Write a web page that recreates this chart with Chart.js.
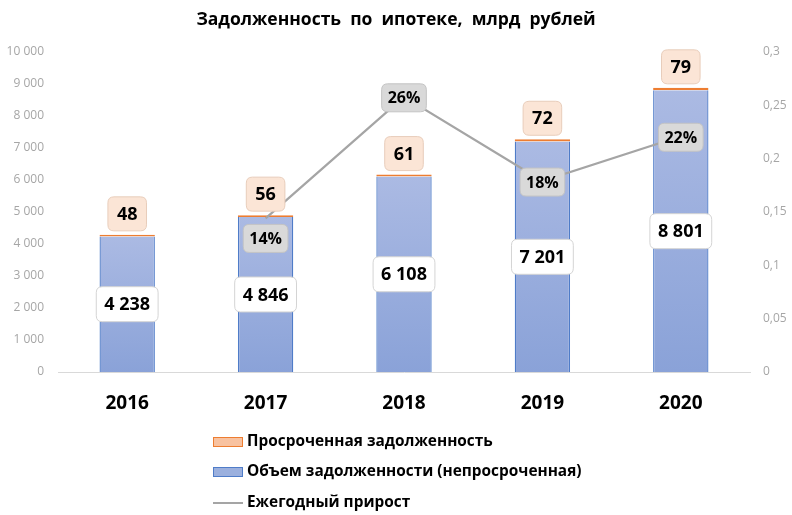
<!DOCTYPE html>
<html>
<head>
<meta charset="utf-8">
<script src="https://cdn.jsdelivr.net/npm/chart.js@4.4.1/dist/chart.umd.min.js"></script>
<style>
    html, body { margin: 0; padding: 0; background: #fff; }
    #wrap { width: 792px; height: 515px; }
</style>
</head>
<body>
<div id="wrap"><canvas id="mortgageChart" width="792" height="515"></canvas></div>
<script>
// data //
const years = ['2016', '2017', '2018', '2019', '2020'];
const mainDebt = [4238, 4846, 6108, 7201, 8801];
const overdueDebt = [48, 56, 61, 72, 79];
const growth = [null, 0.144, 0.258, 0.179, 0.221];
const leftTicks = [0, 1000, 2000, 3000, 4000, 5000, 6000, 7000, 8000, 9000, 10000];
const rightTicks = [0, 0.05, 0.1, 0.15, 0.2, 0.25, 0.3];

const FONT = "'Open Sans', 'Noto Sans', sans-serif";

function fmt(n) {
    return String(n).replace(/\B(?=(\d{3})+(?!\d))/g, ' ');
}

function roundRect(ctx, x, y, w, h, r) {
    ctx.beginPath();
    ctx.moveTo(x + r, y);
    ctx.lineTo(x + w - r, y);
    ctx.quadraticCurveTo(x + w, y, x + w, y + r);
    ctx.lineTo(x + w, y + h - r);
    ctx.quadraticCurveTo(x + w, y + h, x + w - r, y + h);
    ctx.lineTo(x + r, y + h);
    ctx.quadraticCurveTo(x, y + h, x, y + h - r);
    ctx.lineTo(x, y + r);
    ctx.quadraticCurveTo(x, y, x + r, y);
    ctx.closePath();
}

function drawTag(ctx, text, cx, cy, opt) {
    ctx.font = 'bold ' + opt.size + 'px ' + FONT;
    const w = ctx.measureText(text).width + opt.padX * 2;
    const h = opt.h;
    roundRect(ctx, cx - w / 2, cy - h / 2, w, h, 6);
    ctx.fillStyle = opt.fill;
    ctx.fill();
    ctx.lineWidth = 1;
    ctx.strokeStyle = opt.stroke;
    ctx.stroke();
    ctx.fillStyle = '#000';
    ctx.textAlign = 'center';
    ctx.textBaseline = 'middle';
    ctx.fillText(text, cx, cy + 1);
}

// labels on bars and line //
const tagPlugin = {
    id: 'tags',
    afterDatasetsDraw(chart) {
        const ctx = chart.ctx;
        const mainMeta = chart.getDatasetMeta(0);
        const overMeta = chart.getDatasetMeta(1);
        const lineMeta = chart.getDatasetMeta(2);
        ctx.save();
        mainMeta.data.forEach((bar, i) => {
            drawTag(ctx, fmt(mainDebt[i]), bar.x, (bar.y + bar.base) / 2,
                { size: 18, padX: 8, h: 35, fill: '#ffffff', stroke: '#d4d4d4' });
        });
        overMeta.data.forEach((bar, i) => {
            drawTag(ctx, String(overdueDebt[i]), bar.x, bar.y - 21,
                { size: 18, padX: 9, h: 34, fill: '#fbe5d6', stroke: '#e8cdbb' });
        });
        lineMeta.data.forEach((pt, i) => {
            if (growth[i] === null) return;
            const dy = i === 1 ? 20 : 1;
            drawTag(ctx, Math.round(growth[i] * 100) + '%', pt.x, pt.y + dy,
                { size: 16, padX: 6, h: 28, fill: '#d9d9d9', stroke: '#c4c4c4' });
        });
        ctx.restore();
    }
};

// legend under the chart, one item per row //
const legendPlugin = {
    id: 'rowLegend',
    afterDraw(chart) {
        const ctx = chart.ctx;
        const items = [1, 0, 2];
        const rows = [442, 472, 503];
        ctx.save();
        ctx.font = 'bold 15.4px ' + FONT;
        ctx.textAlign = 'left';
        ctx.textBaseline = 'middle';
        items.forEach((idx, r) => {
            const ds = chart.data.datasets[idx];
            const y = rows[r];
            if (ds.type === 'line') {
                ctx.strokeStyle = ds.borderColor;
                ctx.lineWidth = 2;
                ctx.beginPath();
                ctx.moveTo(213, y);
                ctx.lineTo(243, y);
                ctx.stroke();
            } else {
                ctx.fillStyle = ds.legendFill;
                ctx.fillRect(213, y - 5, 30, 10);
                ctx.strokeStyle = ds.borderColor;
                ctx.lineWidth = 1;
                ctx.strokeRect(213.5, y - 4.5, 29, 9);
            }
            ctx.fillStyle = '#000';
            ctx.fillText(ds.label, 247, y);
        });
        ctx.restore();
    }
};

document.addEventListener('DOMContentLoaded', () => {
    const ctx = document.getElementById('mortgageChart').getContext('2d');

    const barFill = function (context) {
        const chart = context.chart;
        const y = chart.scales.y;
        if (!chart.chartArea || !y) return '#98aedd';
        const v = mainDebt[context.dataIndex];
        const top = y.getPixelForValue(v);
        const bottom = y.getPixelForValue(0);
        if (!isFinite(top) || !isFinite(bottom) || top === bottom) return '#98aedd';
        const g = chart.ctx.createLinearGradient(0, top, 0, bottom);
        g.addColorStop(0, '#abbae3');
        g.addColorStop(1, '#8aa2d8');
        return g;
    };

    const mortgageChart = new Chart(ctx, {
        type: 'bar',
        data: {
            labels: years,
            datasets: [{
                label: 'Объем задолженности (непросроченная)',
                data: mainDebt,
                backgroundColor: barFill,
                legendFill: '#9bb0de',
                borderColor: '#4f7cc8',
                borderWidth: { left: 1.3, right: 1.3, top: 0, bottom: 0 },
                borderSkipped: false,
                categoryPercentage: 0.8,
                barPercentage: 0.5,
                yAxisID: 'y',
                order: 1
            }, {
                label: 'Просроченная задолженность',
                data: overdueDebt,
                backgroundColor: '#f4b183',
                legendFill: '#f8c2a0',
                borderColor: '#ed7d31',
                borderWidth: 1.5,
                borderSkipped: false,
                categoryPercentage: 0.8,
                barPercentage: 0.5,
                yAxisID: 'y',
                order: 1
            }, {
                type: 'line',
                label: 'Ежегодный прирост',
                data: growth,
                borderColor: '#a5a5a5',
                backgroundColor: '#a5a5a5',
                borderWidth: 2.25,
                pointRadius: 0,
                fill: false,
                tension: 0,
                yAxisID: 'y1',
                order: 0
            }]
        },
        options: {
            responsive: false,
            animation: false,
            layout: { padding: 0 },
            plugins: {
                legend: { display: false },
                tooltip: { enabled: false },
                title: {
                    display: true,
                    text: 'Задолженность  по  ипотеке,  млрд  рублей',
                    color: '#000',
                    font: { family: FONT, size: 17.5, weight: 'bold', lineHeight: 1.2 },
                    padding: { top: 10, bottom: 21 }
                }
            },
            scales: {
                x: {
                    stacked: true,
                    grid: { display: false, drawTicks: false },
                    border: { display: true, color: '#d9d9d9', width: 1 },
                    ticks: {
                        color: '#000',
                        padding: 20,
                        font: { family: FONT, size: 19, weight: 'bold' }
                    },
                    afterFit: (s) => { s.height = 143; }
                },
                y: {
                    stacked: true,
                    position: 'left',
                    min: 0,
                    max: 10000,
                    grid: { display: false, drawTicks: false },
                    border: { display: false },
                    afterBuildTicks: (s) => { s.ticks = leftTicks.map(v => ({ value: v })); },
                    ticks: {
                        color: '#a6a6a6',
                        padding: 14,
                        font: { family: FONT, size: 12 },
                        callback: (v) => fmt(v)
                    },
                    afterFit: (s) => { s.width = 58; }
                },
                y1: {
                    position: 'right',
                    min: 0,
                    max: 0.3,
                    grid: { display: false, drawTicks: false },
                    border: { display: false },
                    afterBuildTicks: (s) => { s.ticks = rightTicks.map(v => ({ value: v })); },
                    ticks: {
                        color: '#a6a6a6',
                        padding: 13,
                        font: { family: FONT, size: 12 },
                        callback: (v) => String(parseFloat(v.toFixed(2))).replace('.', ',')
                    },
                    afterFit: (s) => { s.width = 42; }
                }
            }
        },
        plugins: [tagPlugin, legendPlugin]
    });
});
</script>
</body>
</html>
